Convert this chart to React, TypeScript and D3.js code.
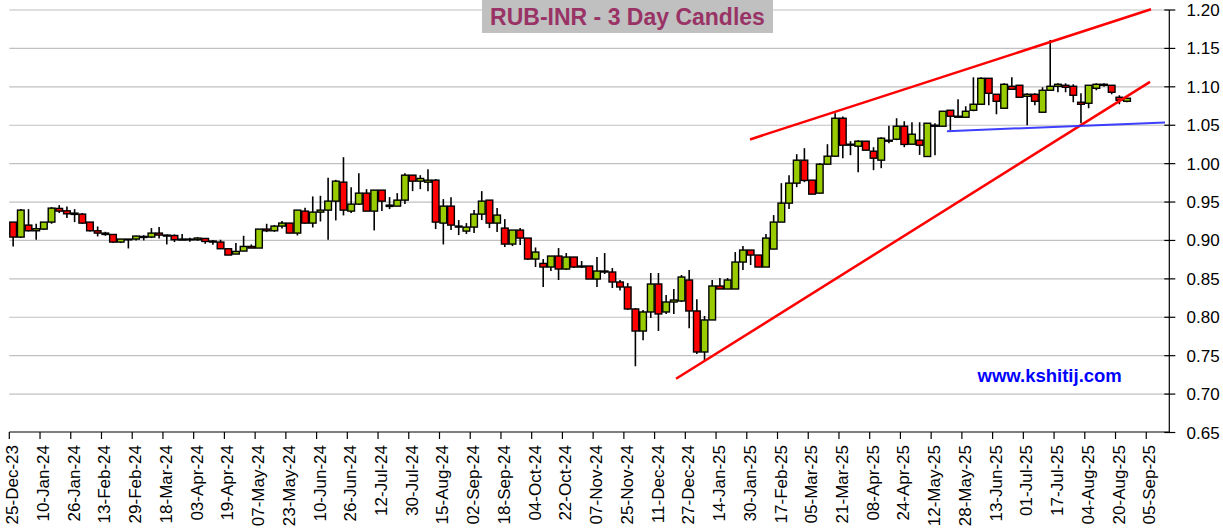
import React from "react";
import * as d3 from "d3";

const open = [
  0.9239, 0.9044, 0.92, 0.9126, 0.9148, 0.9239, 0.9417, 0.9386, 0.9356, 0.9343,
  0.9239, 0.9126, 0.9096, 0.9078, 0.8979, 0.9018, 0.9018, 0.9039, 0.9044, 0.9096,
  0.907, 0.9065, 0.9018, 0.9009, 0.9009, 0.9026, 0.8992, 0.8979, 0.8892, 0.8823,
  0.8862, 0.8922, 0.8901, 0.9148, 0.9126, 0.9187, 0.9226, 0.9096, 0.9382, 0.9226,
  0.9369, 0.9395, 0.9512, 0.9759, 0.9382, 0.9473, 0.9616, 0.9382, 0.9655, 0.946,
  0.9447, 0.9525, 0.985, 0.9772, 0.9759, 0.9785, 0.9226, 0.9447, 0.9187, 0.9122,
  0.9174, 0.9343, 0.9525, 0.9226, 0.9161, 0.8953, 0.9135, 0.9031, 0.8758, 0.8701,
  0.8654, 0.8797, 0.8628, 0.8784, 0.8654, 0.8667, 0.8498, 0.8602, 0.8589, 0.8459,
  0.8394, 0.8108, 0.7821, 0.8069, 0.8433, 0.8069, 0.8199, 0.8212, 0.8485, 0.8082,
  0.7548, 0.7965, 0.8407, 0.8368, 0.8368, 0.8719, 0.8875, 0.881, 0.8654, 0.8888,
  0.9239, 0.9486, 0.9746, 1.0045, 0.9785, 0.9616, 0.9993, 1.0097, 1.0591, 1.024,
  1.0227, 1.0292, 1.0162, 1.0045, 1.0292, 1.0318, 1.0487, 1.0253, 1.0305, 1.0093,
  1.05, 1.0487, 1.0695, 1.0604, 1.0604, 1.0695, 1.0773, 1.1111, 1.0903, 1.0721,
  1.1007, 1.102, 1.0877, 1.0903, 1.0669, 1.0955, 1.1007, 1.102, 1.1007, 1.0799,
  1.0786, 1.0981, 1.1033, 1.102, 1.0864, 1.0812,
];
const high = [
  0.9239, 0.9408, 0.9408, 0.9217, 0.9239, 0.9434, 0.946, 0.9443, 0.9408, 0.9356,
  0.9239, 0.9182, 0.9113, 0.9078, 0.9018, 0.9018, 0.9061, 0.907, 0.9161, 0.9174,
  0.9078, 0.9078, 0.9083, 0.9035, 0.9044, 0.9026, 0.9005, 0.9009, 0.8892, 0.8966,
  0.9061, 0.8948, 0.9148, 0.9217, 0.92, 0.9252, 0.9226, 0.9395, 0.9425, 0.9573,
  0.9581, 0.9815, 0.9789, 1.0084, 0.9694, 0.9876, 0.9668, 0.9655, 0.9655, 0.9564,
  0.9616, 0.9876, 0.985, 0.985, 0.9928, 0.9798, 0.9538, 0.9564, 0.9265, 0.9226,
  0.9395, 0.9642, 0.9525, 0.9421, 0.9278, 0.9135, 0.9161, 0.9031, 0.8909, 0.8758,
  0.8797, 0.8901, 0.8836, 0.8784, 0.8732, 0.8667, 0.8784, 0.8836, 0.8641, 0.8485,
  0.8446, 0.8121, 0.8095, 0.8576, 0.8576, 0.829, 0.8368, 0.855, 0.8615, 0.8233,
  0.8017, 0.8485, 0.8511, 0.8511, 0.8849, 0.8927, 0.8875, 0.881, 0.9083, 0.933,
  0.9746, 0.985, 1.0123, 1.0201, 0.9785, 1.0006, 1.0253, 1.0656, 1.0613, 1.0292,
  1.0305, 1.0292, 1.0214, 1.0344, 1.0492, 1.0591, 1.0552, 1.0539, 1.0539, 1.0526,
  1.0526, 1.0682, 1.0695, 1.0838, 1.0747, 1.1124, 1.1124, 1.1111, 1.0903, 1.1046,
  1.1124, 1.102, 1.0916, 1.0916, 1.0994, 1.161, 1.1046, 1.1046, 1.1033, 1.0916,
  1.102, 1.1046, 1.1046, 1.102, 1.089, 1.0851,
];
const low = [
  0.8922, 0.9031, 0.9117, 0.9009, 0.9135, 0.9217, 0.9356, 0.9291, 0.9239, 0.9217,
  0.9117, 0.9052, 0.9061, 0.8966, 0.8966, 0.8896, 0.9, 0.9, 0.9031, 0.9026,
  0.8948, 0.8979, 0.9005, 0.8983, 0.8996, 0.8957, 0.8944, 0.8892, 0.881, 0.8823,
  0.8862, 0.8901, 0.8901, 0.9109, 0.9113, 0.9156, 0.9096, 0.9065, 0.9217, 0.9169,
  0.9247, 0.9009, 0.9261, 0.9326, 0.9356, 0.946, 0.9382, 0.9131, 0.9382, 0.9408,
  0.9447, 0.9473, 0.9642, 0.9668, 0.9642, 0.9148, 0.8948, 0.9135, 0.907, 0.9083,
  0.9096, 0.9265, 0.9161, 0.9109, 0.8914, 0.8927, 0.894, 0.8745, 0.8654, 0.8394,
  0.8602, 0.8485, 0.8615, 0.8641, 0.8641, 0.8498, 0.8394, 0.8563, 0.8381, 0.835,
  0.8095, 0.7362, 0.77, 0.7991, 0.7821, 0.8043, 0.8043, 0.8199, 0.7856, 0.7522,
  0.7444, 0.7965, 0.8368, 0.8368, 0.8368, 0.8615, 0.868, 0.8654, 0.8654, 0.8888,
  0.9239, 0.9408, 0.9694, 0.9759, 0.9603, 0.9616, 0.9993, 1.0097, 1.0071, 1.011,
  0.9889, 1.0175, 0.9915, 0.9941, 1.0266, 1.0305, 1.0214, 1.0253, 1.0114, 1.0093,
  1.011, 1.0487, 1.0435, 1.0604, 1.0604, 1.0682, 1.0773, 1.076, 1.0643, 1.0721,
  1.0968, 1.0864, 1.05, 1.076, 1.0669, 1.0955, 1.0929, 1.0929, 1.0799, 1.0526,
  1.0721, 1.0955, 1.1, 1.0903, 1.0773, 1.0799,
];
const close = [
  0.9044, 0.9395, 0.9126, 0.9152, 0.9239, 0.9421, 0.9382, 0.9347, 0.9339, 0.9226,
  0.9126, 0.9096, 0.9078, 0.8979, 0.9018, 0.9009, 0.9057, 0.9052, 0.9096, 0.907,
  0.9057, 0.9009, 0.9005, 0.9018, 0.9031, 0.8987, 0.8979, 0.8892, 0.881, 0.8857,
  0.8922, 0.8901, 0.9148, 0.9126, 0.9187, 0.9226, 0.9096, 0.9395, 0.9226, 0.9369,
  0.9395, 0.9512, 0.9772, 0.9395, 0.9473, 0.9616, 0.9382, 0.9655, 0.9512, 0.9443,
  0.9525, 0.985, 0.9772, 0.9807, 0.9785, 0.9239, 0.9447, 0.92, 0.9174, 0.9174,
  0.9343, 0.9512, 0.9226, 0.933, 0.8953, 0.9135, 0.9031, 0.8758, 0.8849, 0.8654,
  0.8797, 0.8628, 0.8784, 0.8654, 0.8667, 0.8498, 0.8602, 0.8589, 0.8459, 0.8394,
  0.8108, 0.7821, 0.8069, 0.8433, 0.8043, 0.8199, 0.8225, 0.8524, 0.8082, 0.7548,
  0.7965, 0.8407, 0.8368, 0.8485, 0.8719, 0.8875, 0.881, 0.8654, 0.9031, 0.9239,
  0.9486, 0.9746, 1.0045, 0.9781, 0.9603, 0.9993, 1.0097, 1.0591, 1.024, 1.0253,
  1.0292, 1.0175, 1.0071, 1.0331, 1.0305, 1.0487, 1.025, 1.0383, 1.024, 1.0526,
  1.0487, 1.0682, 1.0617, 1.0617, 1.0682, 1.0773, 1.1111, 1.0916, 1.0812, 1.1033,
  1.0968, 1.0864, 1.0903, 1.0812, 1.0955, 1.1007, 1.1033, 1.0994, 1.089, 1.0773,
  1.102, 1.1033, 1.102, 1.0929, 1.0825, 1.0851,
];

const xTickLabels = [
  "25-Dec-23", "10-Jan-24", "26-Jan-24", "13-Feb-24", "29-Feb-24", "18-Mar-24",
  "03-Apr-24", "19-Apr-24", "07-May-24", "23-May-24", "10-Jun-24", "26-Jun-24",
  "12-Jul-24", "30-Jul-24", "15-Aug-24", "02-Sep-24", "18-Sep-24", "04-Oct-24",
  "22-Oct-24", "07-Nov-24", "25-Nov-24", "11-Dec-24", "27-Dec-24", "14-Jan-25",
  "30-Jan-25", "17-Feb-25", "05-Mar-25", "21-Mar-25", "08-Apr-25", "24-Apr-25",
  "12-May-25", "28-May-25", "13-Jun-25", "01-Jul-25", "17-Jul-25", "04-Aug-25",
  "20-Aug-25", "05-Sep-25",
];
const candlesPerTick = 4;
const totalSlots = 151;

const yTickValues = [0.65, 0.7, 0.75, 0.8, 0.85, 0.9, 0.95, 1.0, 1.05, 1.1, 1.15, 1.2];

// trend lines: [slot position, price]
const upperChannel = [[96.42, 1.0315], [148.62, 1.2009]];
const lowerChannel = [[86.79, 0.7199], [148.49, 1.1065]];
const supportLine = [[122.06, 1.0423], [150.44, 1.0534]];

const titleText = "RUB-INR - 3 Day Candles";
const watermark = "www.kshitij.com";

const W = 1223;
const H = 532;
const FONT = "Arial, 'Liberation Sans', sans-serif";

export default function App() {
  const x = d3.scaleLinear().domain([0, totalSlots]).range([9.3, 1169.3]);
  const y = d3.scaleLinear().domain([0.65, 1.2]).range([432.5, 10]);
  const step = x(1) - x(0);
  const plotLeft = x(0);
  const plotRight = x(totalSlots);
  const line = d3
    .line<number[]>()
    .x((d) => x(d[0]))
    .y((d) => y(d[1]));

  return (
    <svg
      width={W}
      height={H}
      style={{ position: "absolute", left: 0, top: 0, background: "#fff" }}
      fontFamily={FONT}
    >
      <rect x={0} y={0} width={W} height={H} fill="#ffffff" />
      {/* grid */}
      {yTickValues.slice(1).map((v) => (
        <line
          key={"g" + v}
          x1={plotLeft}
          x2={plotRight}
          y1={y(v)}
          y2={y(v)}
          stroke="#c0c0c0"
          strokeWidth={1.2}
        />
      ))}
      {/* title */}
      <rect x={482} y={0} width={291} height={33} fill="#c0c0c0" />
      <text
        x={627.5}
        y={25}
        textAnchor="middle"
        fontSize={23}
        fontWeight="bold"
        fill="#993366"
      >
        {titleText}
      </text>
      {/* candles */}
      {open.map((o, i) => {
        const c = close[i];
        const up = c >= o;
        const cx = x(i) + step / 2;
        const top = y(Math.max(o, c));
        const bot = y(Math.min(o, c));
        return (
          <g key={"c" + i}>
            <line
              x1={cx}
              x2={cx}
              y1={y(high[i])}
              y2={y(low[i])}
              stroke="#000"
              strokeWidth={1.6}
            />
            <rect
              x={x(i) + 0.5}
              y={top}
              width={step - 1}
              height={Math.max(bot - top, 0.8)}
              fill={up ? "#99cc00" : "#ff0000"}
              stroke="#000"
              strokeWidth={1.4}
            />
          </g>
        );
      })}
      {/* trend lines */}
      <path d={line(upperChannel) || ""} stroke="#ff0000" strokeWidth={2.5} fill="none" />
      <path d={line(lowerChannel) || ""} stroke="#ff0000" strokeWidth={2.5} fill="none" />
      <path
        d={line(supportLine) || ""}
        stroke="#2a2aff"
        strokeWidth={2}
        fill="none"
        opacity={0.9}
      />
      {/* x axis */}
      <line x1={plotLeft} x2={plotRight} y1={432} y2={432} stroke="#000" strokeWidth={1.2} />
      {xTickLabels.map((lab, k) => {
        const tx = x(k * candlesPerTick);
        return (
          <g key={"xt" + k}>
            <line x1={tx} x2={tx} y1={432} y2={439} stroke="#000" strokeWidth={1.2} />
            <text
              transform={`translate(${tx + 9},445) rotate(-90)`}
              textAnchor="end"
              fontSize={17}
              fill="#000"
            >
              {lab}
            </text>
          </g>
        );
      })}
      {/* y axis right */}
      <line x1={plotRight} x2={plotRight} y1={y(1.2)} y2={432} stroke="#000" strokeWidth={1.2} />
      {yTickValues.map((v) => (
        <g key={"yt" + v}>
          <line
            x1={plotRight - 5}
            x2={plotRight + 6}
            y1={y(v)}
            y2={y(v)}
            stroke="#000"
            strokeWidth={1.2}
          />
          <text x={1186.5} y={y(v) + 6} fontSize={17} fill="#000">
            {v.toFixed(2)}
          </text>
        </g>
      ))}
      {/* watermark */}
      <text
        x={1049.7}
        y={381.7}
        textAnchor="middle"
        fontSize={18.5}
        fontWeight="bold"
        fill="#0000ff"
      >
        {watermark}
      </text>
    </svg>
  );
}
